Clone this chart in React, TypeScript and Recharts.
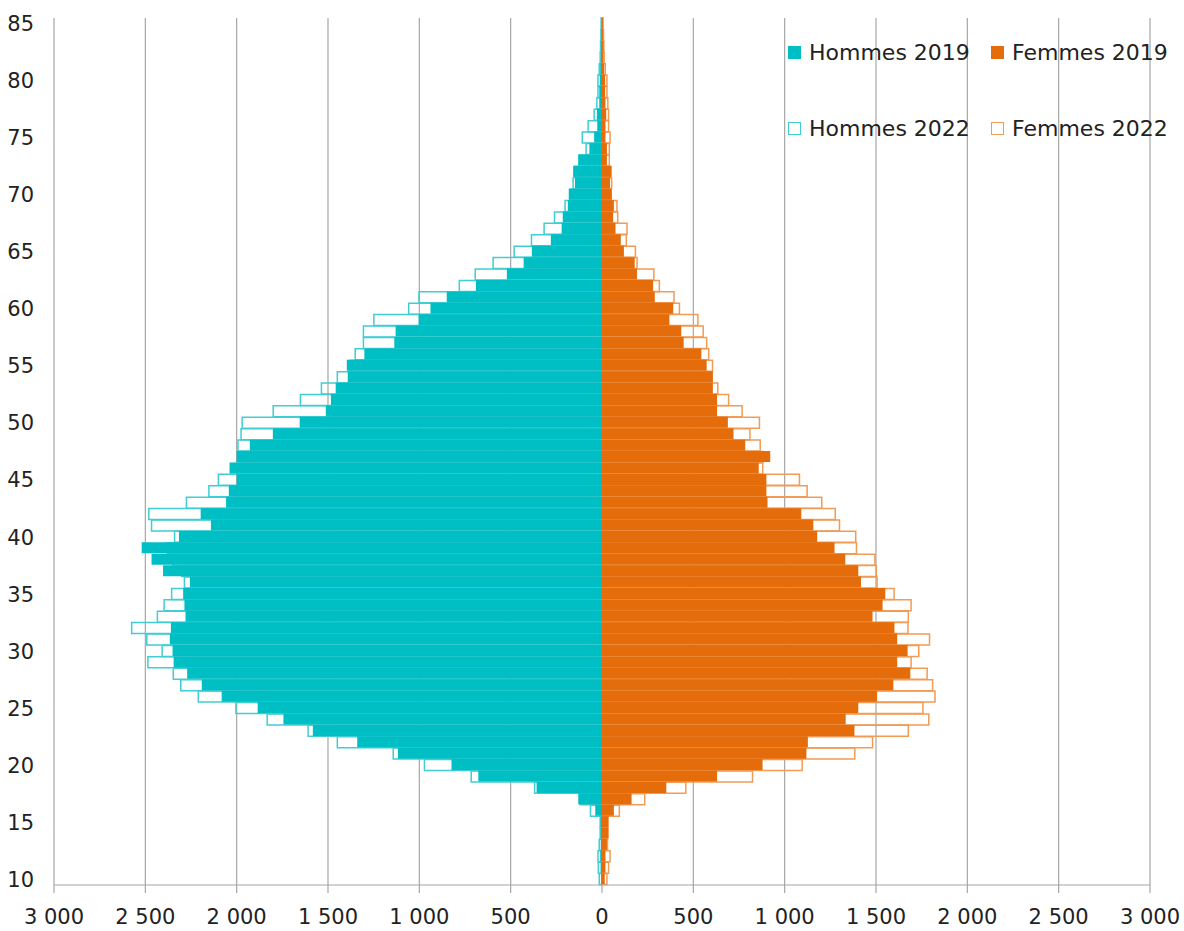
import { BarChart, Bar, XAxis, YAxis, CartesianGrid } from 'recharts';

// Pyramide des âges, 2019 (plein) vs 2022 (contour)

const ages = Array.from({ length: 76 }, (_, i) => 10 + i);

// ages 10 -> 85
const hommes2019 = [
  5, 8, 10, 7, 7, 8, 37, 130, 358, 677,
  824, 1117, 1340, 1583, 1744, 1885, 2082, 2191, 2271, 2345,
  2351, 2366, 2360, 2280, 2286, 2293, 2256, 2403, 2466, 2520,
  2316, 2141, 2197, 2058, 2043, 2000, 2039, 2000, 1928, 1802,
  1655, 1512, 1484, 1458, 1392, 1397, 1301, 1137, 1130, 1004,
  939, 850, 690, 521, 429, 384, 280, 221, 215, 187,
  182, 148, 158, 130, 69, 43, 26, 28, 15, 15,
  12, 10, 6, 5, 4, 3,
];

const hommes2022 = [
  15, 20, 22, 15, 10, 10, 63, 120, 369, 716,
  972, 1143, 1449, 1609, 1833, 2004, 2210, 2306, 2347, 2486,
  2408, 2492, 2575, 2434, 2397, 2356, 2286, 2300, 2350, 2380,
  2340, 2466, 2481, 2275, 2152, 2100, 2000, 1980, 1993, 1976,
  1970, 1800, 1651, 1536, 1449, 1380, 1351, 1306, 1306, 1249,
  1058, 1002, 781, 694, 596, 481, 386, 317, 260, 202,
  175, 158, 150, 125, 87, 108, 76, 43, 28, 22,
  22, 15, 10, 8, 6, 5,
];

const femmes2019 = [
  15, 19, 19, 27, 36, 36, 65, 162, 352, 630,
  879, 1119, 1127, 1382, 1334, 1403, 1506, 1595, 1688, 1616,
  1673, 1616, 1601, 1481, 1536, 1551, 1418, 1403, 1332, 1273,
  1178, 1157, 1091, 906, 900, 900, 858, 921, 784, 720,
  689, 630, 630, 607, 607, 573, 544, 447, 434, 369,
  390, 289, 280, 192, 179, 120, 103, 74, 61, 65,
  53, 44, 53, 27, 27, 19, 19, 23, 19, 17,
  17, 12, 8, 8, 6, 5,
];

const femmes2022 = [
  27, 36, 44, 30, 30, 30, 95, 234, 459, 824,
  1096, 1384, 1481, 1677, 1789, 1757, 1823, 1810, 1780, 1692,
  1734, 1793, 1675, 1677, 1692, 1599, 1506, 1502, 1494, 1393,
  1389, 1300, 1277, 1203, 1123, 1081, 880, 880, 866, 810,
  862, 767, 693, 634, 600, 605, 584, 573, 554, 525,
  424, 394, 314, 284, 192, 183, 133, 137, 86, 82,
  50, 53, 45, 40, 40, 44, 36, 36, 32, 27,
  27, 18, 12, 10, 8, 6,
];

const xTicks = [-3000, -2500, -2000, -1500, -1000, -500, 0, 500, 1000, 1500, 2000, 2500, 3000];

const TEAL = '#00BFC4';
const TEAL_LINE = '#40CDD3';
const ORANGE = '#E46C0A';
const ORANGE_LINE = '#F29B55';
const FONT = '"DejaVu Sans", Verdana, sans-serif';

const legendItems = [
  { label: 'Hommes 2019', color: TEAL, filled: true, left: 788, top: 52 },
  { label: 'Femmes 2019', color: ORANGE, filled: true, left: 991, top: 52 },
  { label: 'Hommes 2022', color: TEAL_LINE, filled: false, left: 788, top: 128 },
  { label: 'Femmes 2022', color: ORANGE_LINE, filled: false, left: 991, top: 128 },
];

const fmt = (v: number) => {
  const a = Math.abs(v);
  return a >= 1000 ? `${Math.floor(a / 1000)} ${String(a % 1000).padStart(3, '0')}` : String(a);
};

export default function App() {
  const data = ages.map((age, i) => ({
    age,
    h22: -hommes2022[i],
    f22: femmes2022[i],
    h19: -hommes2019[i],
    f19: femmes2019[i],
  }));

  return (
    <div
      style={{
        position: 'absolute',
        left: 0,
        top: 0,
        width: 1184,
        height: 931,
        background: '#fff',
        fontFamily: FONT,
      }}
    >
      <BarChart
        width={1184}
        height={931}
        data={data}
        layout="vertical"
        stackOffset="sign"
        barCategoryGap={0}
        barGap="-100%"
        margin={{ top: 18, right: 34, bottom: 0, left: 0 }}
      >
        <CartesianGrid horizontal={false} stroke="#A6A6A6" strokeWidth={1.2} />
        <XAxis
          type="number"
          domain={[-3000, 3000]}
          ticks={xTicks}
          allowDataOverflow
          tickFormatter={fmt}
          stroke="#A6A6A6"
          strokeWidth={1.2}
          tickSize={8}
          tickMargin={16}
          height={46}
          tick={{ fill: '#222', fontSize: 21, fontFamily: FONT }}
        />
        <YAxis
          type="category"
          dataKey="age"
          reversed
          interval={4}
          axisLine={false}
          tickLine={false}
          tickSize={0}
          tickMargin={20}
          width={54}
          tick={{ fill: '#222', fontSize: 21, fontFamily: FONT }}
        />
        <Bar dataKey="h22" stackId="y2022" fill="none" stroke={TEAL_LINE} strokeWidth={1.5} isAnimationActive={false} />
        <Bar dataKey="f22" stackId="y2022" fill="none" stroke={ORANGE_LINE} strokeWidth={1.5} isAnimationActive={false} />
        <Bar dataKey="h19" stackId="y2019" fill={TEAL} isAnimationActive={false} />
        <Bar dataKey="f19" stackId="y2019" fill={ORANGE} isAnimationActive={false} />
      </BarChart>

      {/* legende 2 x 2 en haut a droite */}
      {legendItems.map((it) => (
        <div
          key={it.label}
          style={{
            position: 'absolute',
            left: it.left,
            top: it.top - 14,
            height: 28,
            display: 'flex',
            alignItems: 'center',
            gap: 8,
            fontSize: 22,
            color: '#222',
            whiteSpace: 'nowrap',
          }}
        >
          <div
            style={{
              width: 13,
              height: 13,
              boxSizing: 'border-box',
              background: it.filled ? it.color : '#fff',
              border: it.filled ? 'none' : `1.5px solid ${it.color}`,
            }}
          />
          <span>{it.label}</span>
        </div>
      ))}
    </div>
  );
}
